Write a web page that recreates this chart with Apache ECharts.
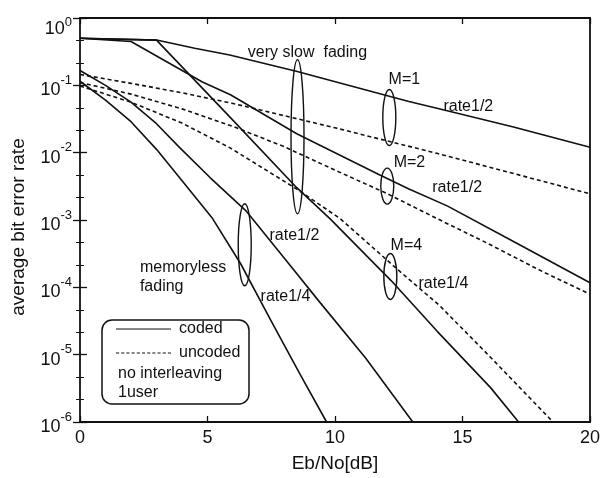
<!DOCTYPE html>
<html>
<head>
<meta charset="utf-8">
<script src="https://cdn.jsdelivr.net/npm/echarts@6/dist/echarts.min.js"></script>
<style>
html, body { margin: 0; padding: 0; background: #fff; }
#chart { width: 603px; height: 478px; }
</style>
</head>
<body>
<div id="chart"></div>
<script>
// values: Eb/No [dB] and average bit error rate

// very slow fading, coded
var snrM1Coded = [0, 3, 4.5, 5.87, 8.48, 12.2, 12.9, 14.2, 17, 20];
var berM1Coded = [0.50, 0.47, 0.355, 0.282, 0.162, 0.0676, 0.0575, 0.0437, 0.0240, 0.0120];

var snrM2Coded = [0, 2, 4.8, 5.9, 8.5, 11.7, 12.9, 14.4, 17, 20];
var berM2Coded = [0.50, 0.447, 0.112, 0.0724, 0.0191, 0.00479, 0.00288, 0.00162, 0.000479, 0.000117];

var snrM4Coded = [0, 3, 5.9, 8.5, 9.8, 12.2, 14, 16.1, 17.2];
var berM4Coded = [0.50, 0.47, 0.0331, 0.00302, 0.00105, 0.000126, 2.24e-5, 3.24e-6, 1.0e-6];

// memoryless fading, coded
var snrMemHalf = [0, 1, 2, 3, 3.9, 5.1, 6.5, 8, 9.4, 11.2, 13.05];
var berMemHalf = [0.166, 0.100, 0.0562, 0.0269, 0.0120, 0.00427, 0.00138, 0.000275, 6.03e-5, 8.9e-6, 1.0e-6];

var snrMemQuarter = [0, 1, 2, 3, 3.9, 5.2, 6.3, 7.5, 8.6, 9.67];
var berMemQuarter = [0.115, 0.0603, 0.0288, 0.0112, 0.00427, 0.00105, 0.000224, 3.16e-5, 5.37e-6, 1.0e-6];

// uncoded
var snrM1Uncoded = [0, 2, 4, 6, 8, 10, 12, 14, 16, 18, 20];
var berM1Uncoded = [0.145, 0.107, 0.0776, 0.0537, 0.0355, 0.0234, 0.0151, 0.00977, 0.00617, 0.00389, 0.00245];

var snrM2Uncoded = [0, 2, 4, 6, 8, 10, 12, 14, 16, 18, 20];
var berM2Uncoded = [0.110, 0.0741, 0.0447, 0.0245, 0.0123, 0.0055, 0.00251, 0.00105, 0.000447, 0.000182, 7.9e-5];

var snrM4Uncoded = [0, 2, 4, 5.9, 8.5, 10.2, 12.5, 14.1, 16, 18.55];
var berM4Uncoded = [0.0977, 0.0562, 0.0275, 0.0117, 0.00288, 0.00105, 0.000178, 5.37e-5, 1.0e-5, 1.0e-6];

var xTicks = ['0', '5', '10', '15', '20'];

// annotations, anchored in data units
var noteText = ['very slow  fading', 'M=1', 'rate1/2', 'M=2', 'rate1/2', 'M=4', 'rate1/4', 'rate1/2', 'rate1/4'];
var noteSnr = [8.92, 12.72, 15.23, 12.92, 14.79, 12.8, 14.25, 8.41, 8.06];
var noteBer = [0.304, 0.121, 0.0484, 0.00724, 0.00298, 0.000415, 0.000114, 0.000582, 7.3e-5];

var ringSnr = [8.53, 12.13, 12.05, 12.17, 6.46];
var ringBer = [0.0172, 0.0333, 0.00319, 0.000145, 0.000428];
var ringRy = [77, 28, 18, 23, 41];

var font = 'Liberation Sans, Arial, Helvetica, sans-serif';
var ink = '#111';

function pairs(xs, ys) {
    return xs.map(function (x, i) { return [x, ys[i]]; });
}

function curve(name, xs, ys, dashed) {
    return {
        name: name,
        type: 'line',
        data: pairs(xs, ys),
        symbol: 'none',
        silent: true,
        itemStyle: { color: ink },
        lineStyle: { color: ink, width: 1.6, type: dashed ? [4, 3] : 'solid' }
    };
}

function yLabel(v) {
    var e = Math.round(Math.log(v) / Math.LN10);
    if (e === 0) {
        return '{b0|10}{s0|0}';
    }
    return '{b|10}{s|' + e + '}';
}

var chart = echarts.init(document.getElementById('chart'));

var xBase = {
    type: 'value',
    min: 0,
    max: 20,
    interval: 5,
    axisLine: { show: true, onZero: false, lineStyle: { color: ink, width: 1.8 } },
    axisTick: { show: true, inside: true, length: 6, lineStyle: { color: ink, width: 1.3 } },
    splitLine: { show: false }
};

var yBase = {
    type: 'log',
    logBase: 10,
    min: 1e-6,
    max: 1,
    splitNumber: 6,
    axisLine: { show: true, onZero: false, lineStyle: { color: ink, width: 1.8 } },
    axisTick: { show: false },
    splitLine: { show: false }
};

// tick-only axes over the same decades (exponent scale) for major and minor ticks
var yTickBase = {
    type: 'value',
    min: -6,
    max: 0,
    interval: 1,
    axisLine: { show: false },
    axisLabel: { show: false },
    axisTick: { show: true, inside: true, length: 7, lineStyle: { color: ink, width: 1.3 } },
    minorTick: { show: true, splitNumber: 3, length: 4, lineStyle: { color: ink, width: 1 } },
    splitLine: { show: false }
};

var legendSolid = 'path://M0,0H55V1H0Z';
var legendDashed = 'path://M0,0H3V1H0Z M5,0H8V1H5Z M10,0H13V1H10Z M15,0H18V1H15Z M20,0H23V1H20Z M25,0H28V1H25Z M30,0H33V1H30Z M35,0H38V1H35Z M40,0H43V1H40Z M45,0H48V1H45Z M50,0H53V1H50Z';

var option = {
    animation: false,
    backgroundColor: '#fff',
    grid: { left: 80, right: 12, top: 18, bottom: 54, containLabel: false },
    legend: {
        left: 116,
        top: 321,
        orient: 'vertical',
        itemWidth: 55,
        itemHeight: 2,
        itemGap: 8,
        padding: 0,
        textStyle: { fontSize: 16, fontFamily: font, color: ink, padding: [0, 0, 0, 3], lineHeight: 16 },
        data: [
            { name: 'coded', icon: legendSolid },
            { name: 'uncoded', icon: legendDashed }
        ]
    },
    xAxis: [
        Object.assign({}, xBase, {
            position: 'bottom',
            name: 'Eb/No[dB]',
            nameLocation: 'middle',
            nameGap: 32,
            nameTextStyle: { fontSize: 19, fontFamily: font, color: ink },
            axisLabel: {
                margin: 7,
                fontSize: 18,
                fontFamily: font,
                color: ink,
                formatter: function (v) { return xTicks[v / 5]; }
            }
        }),
        Object.assign({}, xBase, { position: 'top', axisLabel: { show: false } })
    ],
    yAxis: [
        Object.assign({}, yBase, {
            position: 'left',
            name: 'average bit error rate',
            nameLocation: 'middle',
            nameGap: 52,
            nameTextStyle: { fontSize: 19, fontFamily: font, color: ink, padding: [0, 14, 0, 0] },
            axisLabel: {
                margin: 8,
                formatter: yLabel,
                rich: {
                    b: { fontSize: 18, fontFamily: font, color: ink, padding: [10, 0, 0, 0] },
                    s: { fontSize: 13, fontFamily: font, color: ink, padding: [0, 0, 10, 0] },
                    b0: { fontSize: 18, fontFamily: font, color: ink, padding: [22, 0, 0, 0] },
                    s0: { fontSize: 13, fontFamily: font, color: ink, padding: [9, 0, 0, 0] }
                }
            }
        }),
        Object.assign({}, yBase, { position: 'right', axisLabel: { show: false } }),
        Object.assign({}, yTickBase, { position: 'left' }),
        Object.assign({}, yTickBase, { position: 'right' })
    ],
    series: [
        curve('coded', snrM1Coded, berM1Coded, false),
        curve('coded', snrM2Coded, berM2Coded, false),
        curve('coded', snrM4Coded, berM4Coded, false),
        curve('coded', snrMemHalf, berMemHalf, false),
        curve('coded', snrMemQuarter, berMemQuarter, false),
        curve('uncoded', snrM1Uncoded, berM1Uncoded, true),
        curve('uncoded', snrM2Uncoded, berM2Uncoded, true),
        curve('uncoded', snrM4Uncoded, berM4Uncoded, true)
    ]
};

chart.setOption(option);

// ellipses, notes and the legend frame are placed through the chart's own scales
function toPx(x, y) {
    return chart.convertToPixel({ xAxisIndex: 0, yAxisIndex: 0 }, [x, y]);
}

var elements = [];
ringSnr.forEach(function (x, i) {
    var p = toPx(x, ringBer[i]);
    elements.push({
        type: 'ellipse',
        silent: true,
        shape: { cx: p[0], cy: p[1], rx: 6.5, ry: ringRy[i] },
        style: { fill: 'none', stroke: ink, lineWidth: 1.4 }
    });
});
noteText.forEach(function (t, i) {
    var p = toPx(noteSnr[i], noteBer[i]);
    elements.push({
        type: 'text',
        silent: true,
        x: p[0],
        y: p[1],
        style: {
            text: t, fontSize: 16, fontFamily: font, fill: ink,
            textAlign: 'center', textVerticalAlign: 'middle', align: 'center', verticalAlign: 'middle'
        }
    });
});
var mem = toPx(2.35, 1.4e-4);
elements.push({
    type: 'text',
    silent: true,
    x: mem[0],
    y: mem[1],
    style: {
        text: 'memoryless\nfading', fontSize: 16, fontFamily: font, fill: ink, lineHeight: 19,
        textAlign: 'left', textVerticalAlign: 'middle', align: 'left', verticalAlign: 'middle'
    }
});
elements.push({
    type: 'rect',
    silent: true,
    shape: { x: 102, y: 320, width: 147, height: 84, r: 10 },
    style: { fill: 'none', stroke: ink, lineWidth: 1.5 }
});
elements.push({
    type: 'text',
    silent: true,
    x: 118,
    y: 374,
    style: { text: 'no interleaving', fontSize: 16, fontFamily: font, fill: ink, textVerticalAlign: 'middle', verticalAlign: 'middle' }
});
elements.push({
    type: 'text',
    silent: true,
    x: 118,
    y: 393,
    style: { text: '1user', fontSize: 16, fontFamily: font, fill: ink, textVerticalAlign: 'middle', verticalAlign: 'middle' }
});

chart.setOption({ graphic: { elements: elements } });
</script>
</body>
</html>
